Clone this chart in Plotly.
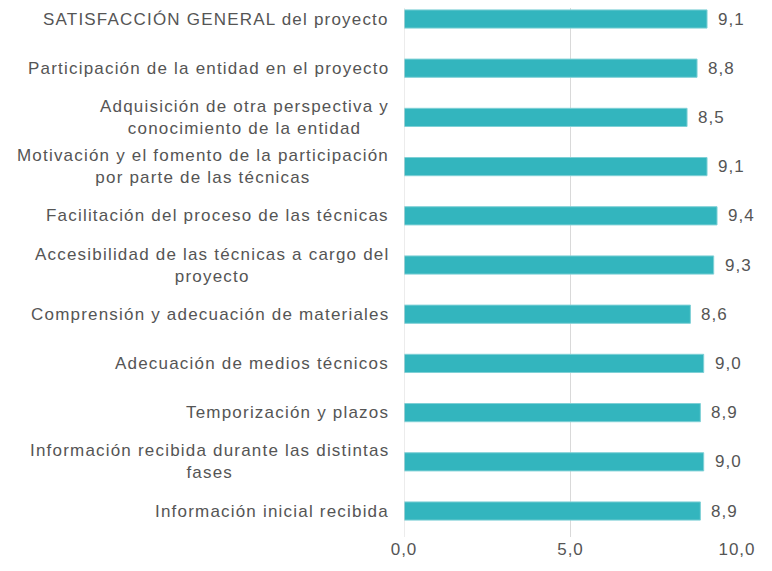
import plotly.graph_objects as go

categories = [
    "SATISFACCIÓN GENERAL del proyecto",
    "Participación de la entidad en el proyecto",
    "Adquisición de otra perspectiva y<br>conocimiento de la entidad",
    "Motivación y el fomento de la participación<br>por parte de las técnicas",
    "Facilitación del proceso de las técnicas",
    "Accesibilidad de las técnicas a cargo del<br>proyecto",
    "Comprensión y adecuación de materiales",
    "Adecuación de medios técnicos",
    "Temporización y plazos",
    "Información recibida durante las distintas<br>fases",
    "Información inicial recibida",
]
values = [9.1, 8.8, 8.5, 9.1, 9.4, 9.3, 8.6, 9.0, 8.9, 9.0, 8.9]
x_ticks = [0, 5, 10]

idx = list(range(len(categories)))
text_color = "#555555"
font_family = "Liberation Sans, Arial, sans-serif"
FS = 17


def spaced(s, ls=1.2):
    return "<br>".join(f'<span style="letter-spacing:{ls}px">{p}</span>' for p in s.split("<br>"))


def fmt(v):
    return f"{v:.1f}".replace(".", ",")


fig = go.Figure()
fig.add_trace(go.Bar(
    x=values, y=idx, orientation="h", width=0.37,
    marker=dict(color="#33B5BE", line=dict(color="#7FD0D6", width=1)),
    hoverinfo="skip",
))

annotations = []
for i, (c, v) in enumerate(zip(categories, values)):
    annotations.append(dict(
        x=0, xref="paper", y=i, yref="y", text=spaced(c), showarrow=False,
        xanchor="right", align="center", xshift=-13,
        font=dict(size=FS, color=text_color, family=font_family),
    ))
    annotations.append(dict(
        x=v, xref="x", y=i, yref="y", text=spaced(fmt(v), 1),
        showarrow=False, xanchor="left", xshift=9,
        font=dict(size=FS, color=text_color, family=font_family),
    ))

fig.update_layout(
    width=764, height=563,
    margin=dict(l=396, r=35, t=0, b=34),
    plot_bgcolor="white", paper_bgcolor="white",
    showlegend=False,
    annotations=annotations,
    xaxis=dict(
        range=[0, 10], tickvals=x_ticks, ticktext=[spaced(fmt(t), 1) for t in x_ticks],
        showgrid=True, gridcolor="#D9D9D9", gridwidth=1,
        zeroline=False, showline=False, ticks="",
        tickfont=dict(size=FS, color=text_color, family=font_family),
    ),
    yaxis=dict(
        range=[10.528, -0.2236], showticklabels=False, showgrid=False,
        zeroline=False, showline=False, ticks="",
    ),
    shapes=[dict(type="line", xref="x", yref="paper", x0=0, x1=0, y0=0, y1=1,
                 line=dict(color="#D9D9D9", width=1))],
)

fig.write_html("out.html")
